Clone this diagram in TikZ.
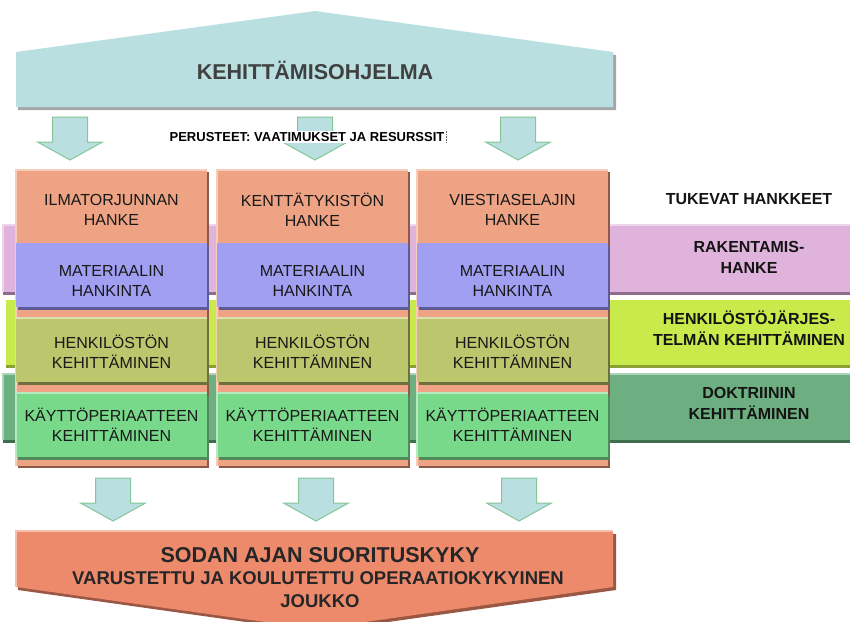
\documentclass[tikz,border=0pt]{standalone}
\usepackage{fontspec}
\setmainfont{Liberation Sans}
\usetikzlibrary{shadows}
\definecolor{progfill}{HTML}{B9DFE1}
\definecolor{arrowline}{HTML}{86C596}
\definecolor{salmon}{HTML}{EDA384}
\definecolor{salmondark}{HTML}{8C5A47}
\definecolor{matfill}{HTML}{A09FF2}
\definecolor{matdark}{HTML}{5C5B98}
\definecolor{henfill}{HTML}{BCC66C}
\definecolor{hendark}{HTML}{6E7040}
\definecolor{kayfill}{HTML}{79D98A}
\definecolor{kaydark}{HTML}{4E8A5A}
\definecolor{rakfill}{HTML}{E0B3DC}
\definecolor{rakdark}{HTML}{8F6C8C}
\definecolor{hjfill}{HTML}{C9EA4B}
\definecolor{hjdark}{HTML}{8AA030}
\definecolor{dokfill}{HTML}{6DAF80}
\definecolor{dokdark}{HTML}{3F6E4E}
\definecolor{resfill}{HTML}{EE8A6C}
\definecolor{resdark}{HTML}{9A5844}
\definecolor{titlegray}{HTML}{404040}
\begin{document}
\begin{tikzpicture}[x=1pt,y=-1pt,
  colbox/.style={fill=salmon, draw=none, anchor=north west, inner sep=0pt,
    minimum width=191pt, drop shadow={shadow xshift=2pt, shadow yshift=-2pt, opacity=1, fill=salmondark}},
  layerbox/.style={fill=#1fill, draw=none, anchor=north west, inner sep=0pt,
    minimum width=191pt, minimum height=64pt,
    drop shadow={shadow xshift=1.5pt, shadow yshift=-2.5pt, opacity=1, fill=#1dark}},
  highlight/.style={line width=1.5pt, #1!55!white},
  coltext/.style={font=\fontsize{16}{20}\selectfont, text=black!90, align=center, inner sep=0pt},
  sidetext/.style={font=\fontsize{16}{21}\selectfont\bfseries, text=black!92, align=center, inner sep=0pt},
  bandbox/.style={fill=#1fill, draw=none, anchor=north west, inner sep=0pt,
    drop shadow={shadow xshift=0pt, shadow yshift=-3pt, opacity=1, fill=#1dark}},
  blockarrow/.style={fill=progfill, draw=arrowline, line width=1pt, line join=miter},
  pics/downarrow/.style={code={
    \path[blockarrow] (-17.5,0) -- (17.5,0) -- (17.5,25) -- (32.5,25) -- (0,43)
      -- (-32.5,25) -- (-17.5,25) -- cycle;}}
]
\useasboundingbox (0,0) rectangle (850,621);

% supporting bands behind the columns
\node[bandbox=rak, minimum width=847pt, minimum height=67pt] (bandrak) at (3,225) {};
\node[bandbox=hj, minimum width=844pt, minimum height=65pt] (bandhj) at (6,300) {};
\node[bandbox=dok, minimum width=847pt, minimum height=66pt] (banddok) at (3,374) {};
\draw[highlight=rakfill] (bandrak.south west) -- (bandrak.north west) -- (bandrak.north east);
\draw[highlight=dokfill] (banddok.south west) -- (banddok.north west) -- (banddok.north east);

\node[sidetext] (tukevat) at (749,199) {TUKEVAT HANKKEET};
\node[sidetext] (rak) at (749,257) {RAKENTAMIS-\\HANKE};
\node[sidetext] (hj) at (749,328) {HENKILÖSTÖJÄRJES-\\TELMÄN KEHITTÄMINEN};
\node[sidetext] (dok) at (749,403) {DOKTRIININ\\KEHITTÄMINEN};

% development programme (top)
\path[fill=black!35] (18,55) -- (317,14) -- (616,55) -- (616,110) -- (18,110) -- cycle;
\path[fill=progfill] (16,52) -- (315,11) -- (613,52) -- (613,107) -- (16,107) -- cycle;
\node[font=\fontsize{21.5}{24}\selectfont\bfseries, text=titlegray] (ohjelma) at (315,70) {KEHITTÄMISOHJELMA};

% arrows from the programme into the projects
\pic (in1) at (70,117) {downarrow};
\pic (in2) at (315,117) {downarrow};
\pic (in3) at (518,117) {downarrow};
\node[fill=white, inner sep=1.5pt, font=\fontsize{13}{14}\selectfont\bfseries] (perusteet) at (307,137)
  {PERUSTEET: VAATIMUKSET JA RESURSSIT};
\draw[black!60, densely dotted, line width=0.6pt] (perusteet.north east) -- (perusteet.south east);

% project columns
\foreach \i/\L/\nm in {1/16/ILMATORJUNNAN, 2/217/KENTTÄTYKISTÖN, 3/417/VIESTIASELAJIN} {
  \node[colbox, minimum height=296pt] (col\i) at (\L,170) {};
  \draw[highlight=salmon] (col\i.south west) -- (col\i.north west) -- (col\i.north east);
  \node[layerbox=mat] (mat\i) at (\L,243) {};
  \node[layerbox=hen] (hen\i) at (\L,318) {};
  \node[layerbox=kay] (kay\i) at (\L,393) {};
  \draw[highlight=kayfill] (kay\i.south west) -- (kay\i.north west) -- (kay\i.north east);
  \draw[highlight=henfill] (hen\i.north west) -- (hen\i.north east);
  \node[coltext] (head\i) at (\L+95.5,210) {\nm\\HANKE};
  \node[coltext] (matt\i) at (\L+95.5,281) {MATERIAALIN\\HANKINTA};
  \node[coltext] (hent\i) at (\L+95.5,352) {HENKILÖSTÖN\\KEHITTÄMINEN};
  \node[coltext] (kayt\i) at (\L+95.5,425) {KÄYTTÖPERIAATTEEN\\KEHITTÄMINEN};
}

% arrows into the wartime capability
\pic (out1) at (113,478) {downarrow};
\pic (out2) at (316,478) {downarrow};
\pic (out3) at (519,478) {downarrow};

% wartime capability (bottom)
\path[fill=resdark] (18,534) -- (616,534) -- (616,590) -- (317,632) -- (18,590) -- cycle;
\path[fill=resfill] (16,531) -- (613,531) -- (613,587) -- (315,629) -- (16,587) -- cycle;
\draw[highlight=resfill] (16,587) -- (16,531) -- (613,531);
\node[anchor=base, font=\fontsize{21.5}{24}\selectfont\bfseries, text=black!85] (sodan) at (320,562) {SODAN AJAN SUORITUSKYKY};
\node[anchor=base, font=\fontsize{18.5}{20}\selectfont\bfseries, text=black!85] (varustettu) at (318,584) {VARUSTETTU JA KOULUTETTU OPERAATIOKYKYINEN};
\node[anchor=base, font=\fontsize{18.5}{20}\selectfont\bfseries, text=black!85] (joukko) at (320,607) {JOUKKO};
\end{tikzpicture}
\end{document}
